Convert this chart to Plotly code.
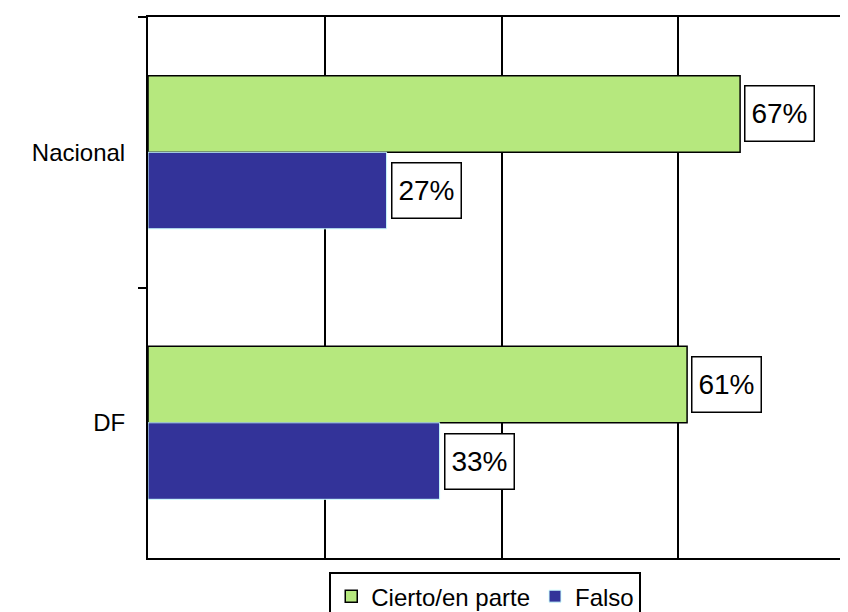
import plotly.graph_objects as go

categories = ["Nacional", "DF"]
cierto = [0.67, 0.61]
falso = [0.27, 0.33]
series_names = ["Cierto/en parte", "Falso"]

FONT = "Liberation Sans, Arial, sans-serif"
GREEN = "#B6E87E"
BLUE = "#333399"
BARGAP = 0.434

fig = go.Figure()
fig.add_trace(go.Bar(
    y=categories, x=cierto, orientation="h", name=series_names[0],
    marker=dict(color=GREEN, line=dict(color="black", width=1.5)),
))
fig.add_trace(go.Bar(
    y=categories, x=falso, orientation="h", name=series_names[1],
    marker=dict(color=BLUE, line=dict(color="#CCFFFF", width=1)),
))

bar_w = (1 - BARGAP) / 2
annotations = []
for i, cat in enumerate(categories):
    for vals, off in ((cierto, -bar_w / 2), (falso, bar_w / 2)):
        v = vals[i]
        annotations.append(dict(
            x=v, y=i + off, xref="x", yref="y",
            text=f"{round(v * 100)}%", showarrow=False,
            xanchor="left", yanchor="middle", xshift=4,
            font=dict(family=FONT, size=28, color="black"),
            bgcolor="white", bordercolor="black", borderwidth=1.5,
            borderpad=1, width=66, height=52, align="center",
        ))

fig.update_layout(
    width=848, height=612,
    margin=dict(l=140, r=1, t=9, b=62, autoexpand=False),
    paper_bgcolor="white", plot_bgcolor="white",
    barmode="group", bargap=BARGAP, bargroupgap=0,
    font=dict(family=FONT, size=24, color="black"),
    showlegend=True,
    legend=dict(
        orientation="h", x=0.477, xanchor="center", y=-0.026, yanchor="top",
        bordercolor="black", borderwidth=2, bgcolor="white",
        font=dict(family=FONT, size=24, color="black"),
        traceorder="normal",
    ),
    annotations=annotations,
)
fig.update_xaxes(
    range=[0, 0.8], dtick=0.2, showticklabels=False, ticks="",
    showgrid=True, gridcolor="black", gridwidth=2,
    showline=True, linecolor="black", linewidth=2, mirror=True,
    zeroline=False, automargin=False,
)
fig.update_yaxes(
    autorange="reversed", tickson="boundaries", ticks="outside",
    ticklen=8, tickwidth=2, tickcolor="black",
    showline=True, linecolor="black", linewidth=2, mirror=True,
    showgrid=False, ticklabelstandoff=16, automargin=False,
    tickfont=dict(family=FONT, size=24, color="black"),
)

fig.write_html("out.html")
